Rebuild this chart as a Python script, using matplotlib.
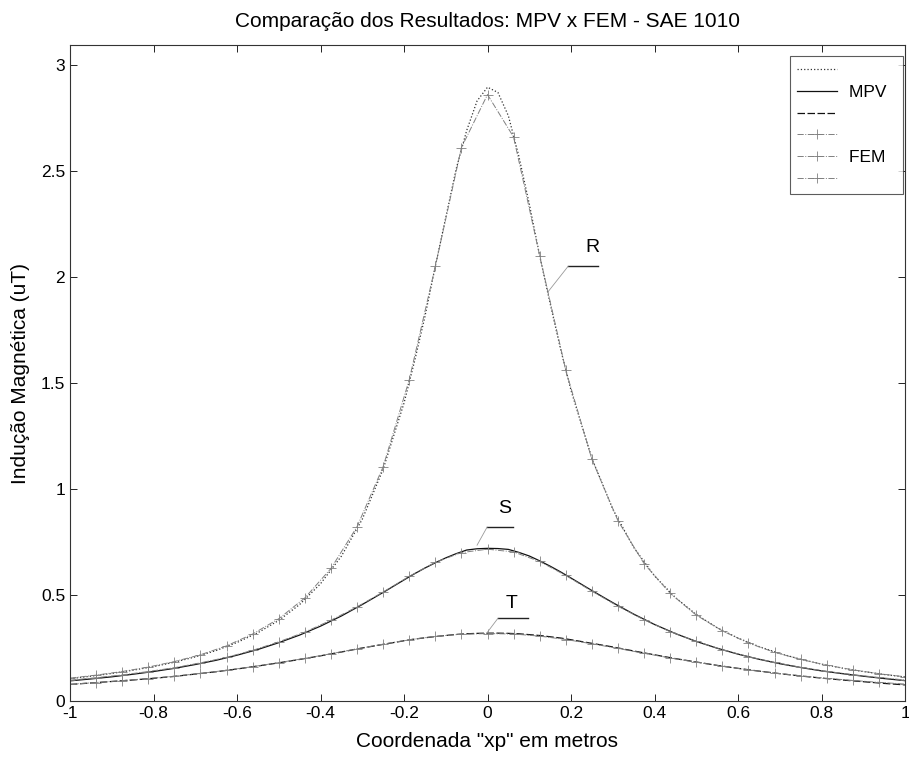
import matplotlib
matplotlib.use("Agg")
import matplotlib.pyplot as plt
import numpy as np

plt.rcParams['font.family'] = ['Liberation Sans', 'DejaVu Sans']

# MPV solution (denser sampling around the peak)
x_mpv = [-1.00, -0.95, -0.90, -0.85, -0.80, -0.75, -0.70, -0.65, -0.60, -0.55,
         -0.50, -0.45, -0.40, -0.35, -0.30, -0.25, -0.20, -0.175, -0.15, -0.125,
         -0.10, -0.075, -0.05, -0.025, 0.00, 0.025, 0.05, 0.075, 0.10, 0.125,
         0.15, 0.175, 0.20, 0.25, 0.30, 0.35, 0.40, 0.45,
         0.50, 0.55, 0.60, 0.65, 0.70, 0.75, 0.80, 0.85, 0.90, 0.95, 1.00]
r_mpv = [0.105, 0.117, 0.130, 0.145, 0.162, 0.183, 0.208, 0.238, 0.276, 0.322,
         0.380, 0.455, 0.553, 0.683, 0.857, 1.093, 1.405, 1.600, 1.812, 2.050,
         2.280, 2.510, 2.690, 2.830, 2.895, 2.870, 2.760, 2.570, 2.345, 2.100,
         1.875, 1.660, 1.465, 1.145, 0.905, 0.725, 0.590, 0.488,
         0.408, 0.346, 0.297, 0.257, 0.224, 0.197, 0.174, 0.155, 0.139, 0.125, 0.113]
s_mpv = [0.095, 0.104, 0.114, 0.126, 0.139, 0.154, 0.172, 0.192, 0.216, 0.243,
         0.275, 0.311, 0.353, 0.401, 0.455, 0.512, 0.571, 0.600, 0.627, 0.652,
         0.675, 0.695, 0.712, 0.718, 0.720, 0.719, 0.715, 0.701, 0.684, 0.661,
         0.636, 0.609, 0.580, 0.521, 0.464, 0.410, 0.361, 0.318,
         0.281, 0.249, 0.221, 0.197, 0.176, 0.158, 0.142, 0.129, 0.117, 0.106, 0.096]
t_mpv = [0.078, 0.085, 0.092, 0.099, 0.107, 0.116, 0.127, 0.138, 0.151, 0.165,
         0.180, 0.196, 0.213, 0.231, 0.250, 0.267, 0.284, 0.292, 0.298, 0.304,
         0.309, 0.314, 0.317, 0.319, 0.320, 0.320, 0.319, 0.317, 0.313, 0.309,
         0.303, 0.297, 0.289, 0.272, 0.255, 0.236, 0.218, 0.200,
         0.184, 0.168, 0.154, 0.141, 0.129, 0.118, 0.108, 0.099, 0.091, 0.083, 0.076]

# FEM solution, one node every 1/16 m
x_fem = [-1.0, -0.9375, -0.875, -0.8125, -0.75, -0.6875, -0.625, -0.5625, -0.5,
         -0.4375, -0.375, -0.3125, -0.25, -0.1875, -0.125, -0.0625, 0.0,
         0.0625, 0.125, 0.1875, 0.25, 0.3125, 0.375, 0.4375, 0.5,
         0.5625, 0.625, 0.6875, 0.75, 0.8125, 0.875, 0.9375, 1.0]
r_fem = [0.108, 0.122, 0.139, 0.160, 0.186, 0.218, 0.260, 0.316, 0.388,
         0.486, 0.625, 0.822, 1.105, 1.515, 2.050, 2.610, 2.860,
         2.660, 2.100, 1.560, 1.140, 0.850, 0.648, 0.508, 0.405,
         0.331, 0.273, 0.230, 0.196, 0.169, 0.147, 0.129, 0.114]
s_fem = [0.098, 0.110, 0.123, 0.139, 0.157, 0.180, 0.206, 0.239, 0.279,
         0.325, 0.381, 0.444, 0.514, 0.588, 0.654, 0.700, 0.716,
         0.703, 0.658, 0.592, 0.518, 0.447, 0.383, 0.327, 0.281,
         0.242, 0.209, 0.182, 0.159, 0.140, 0.124, 0.111, 0.099]
t_fem = [0.079, 0.087, 0.096, 0.106, 0.117, 0.130, 0.145, 0.162, 0.181,
         0.201, 0.223, 0.246, 0.268, 0.289, 0.305, 0.315, 0.318,
         0.316, 0.306, 0.290, 0.270, 0.248, 0.225, 0.203, 0.183,
         0.164, 0.147, 0.132, 0.119, 0.107, 0.097, 0.088, 0.080]

x_ticks = [-1, -0.8, -0.6, -0.4, -0.2, 0, 0.2, 0.4, 0.6, 0.8, 1]
x_tick_labels = ['-1', '-0.8', '-0.6', '-0.4', '-0.2', '0', '0.2', '0.4', '0.6', '0.8', '1']
y_ticks = [0, 0.5, 1, 1.5, 2, 2.5, 3]
y_tick_labels = ['0', '0.5', '1', '1.5', '2', '2.5', '3']

# curve tags: (text, text pos, underline start/end, leader end)
tags = [('R', (0.252, 2.14), (0.193, 0.265, 2.05), (0.145, 1.93)),
        ('S', (0.040, 0.91), (-0.001, 0.061, 0.82), (-0.025, 0.735)),
        ('T', (0.058, 0.46), (0.025, 0.097, 0.39), (0.000, 0.325))]

fig = plt.figure(figsize=(9.09, 7.58), dpi=100)
ax = fig.add_axes([70/909, 1-701/758, 835/909, 656/758])

h1, = ax.plot(x_mpv, r_mpv, color='#333333', lw=0.9, ls=':')
h2, = ax.plot(x_mpv, s_mpv, color='#111111', lw=0.9, ls='-')
h3, = ax.plot(x_mpv, t_mpv, color='#111111', lw=0.9, ls='--', dashes=(6, 2))
fem_style = dict(color='#808080', lw=0.7, ls='-.', marker='+', ms=7, mew=0.6)
h4, = ax.plot(x_fem, r_fem, **fem_style)
h5, = ax.plot(x_fem, s_fem, **fem_style)
h6, = ax.plot(x_fem, t_fem, **fem_style)

for name, (tx, ty), (u0, u1, uy), (lx, ly) in tags:
    ax.text(tx, ty, name, fontsize=14, ha='center', va='center')
    ax.plot([u0, u1], [uy, uy], color='#222222', lw=1.0)
    ax.plot([u0, lx], [uy, ly], color='#999999', lw=0.6)

ax.set_xlim(-1, 1)
ax.set_ylim(0, 3.094)
ax.set_xticks(x_ticks)
ax.set_xticklabels(x_tick_labels)
ax.set_yticks(y_ticks)
ax.set_yticklabels(y_tick_labels)
ax.tick_params(direction='in', top=True, right=True, length=5, width=0.7,
               labelsize=12.5, colors='#222222', labelcolor='black')
for sp in ax.spines.values():
    sp.set_color('#333333')
    sp.set_linewidth(0.8)

ax.set_title('Comparação dos Resultados: MPV x FEM - SAE 1010', fontsize=15, pad=13)
ax.set_xlabel('Coordenada "xp" em metros', fontsize=15, labelpad=8)
ax.set_ylabel('Indução Magnética (uT)', fontsize=15, labelpad=8)

leg = ax.legend([h1, h2, h3, h4, h5, h6], ['', 'MPV  ', '', '', 'FEM  ', ''],
                loc='upper right', bbox_to_anchor=(0.998, 0.983), borderaxespad=0,
                fontsize=12.5, frameon=True, fancybox=False, handlelength=2.3,
                labelspacing=0.38, borderpad=0.4, handletextpad=0.7, numpoints=1)
leg.get_frame().set_edgecolor('#333333')
leg.get_frame().set_linewidth(0.8)

fig.savefig('out.png', dpi=100)
